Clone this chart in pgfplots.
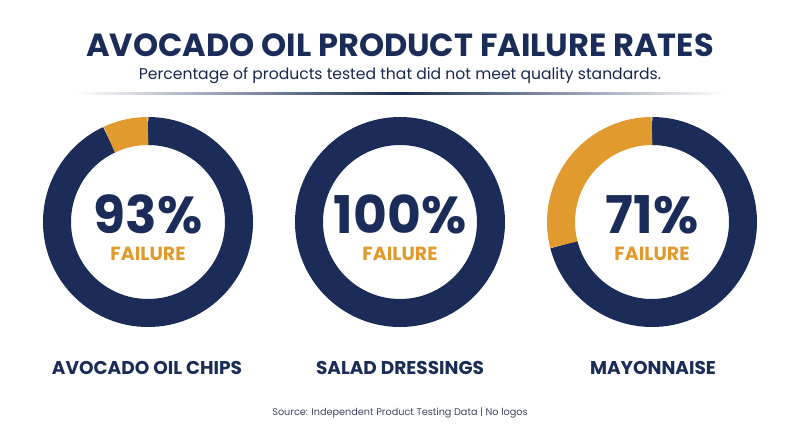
\documentclass[border=0pt]{standalone}
\usepackage{pgfplots}
\usepackage{pgfplotstable}
\pgfplotsset{compat=1.18}
\usepackage{fontspec}
\setmainfont{Poppins}
\definecolor{navy}{HTML}{1A2C57}
\definecolor{gold}{HTML}{E09A2D}
\definecolor{srcgray}{HTML}{3A4560}
\pgfdeclareplotmark{emptymark}{}
\pgfplotstableread{
x y val
148 222 93
400 222 100
652 222 71
}\donuts
\begin{document}
\begin{tikzpicture}
\begin{axis}[width=800pt,height=447pt,scale only axis,
  xmin=0,xmax=800,ymin=0,ymax=447,y dir=reverse,hide axis,clip=false]
\path (axis cs:0,0) rectangle (axis cs:800,447);
\addplot[scatter, only marks, mark=emptymark,
  point meta=explicit symbolic,
  scatter/@pre marker code/.code={%
    \begin{scope}
    \edef\val{\pgfplotspointmeta}%
    \pgfmathsetmacro{\ang}{90-3.6*\val}
    \ifdim\val pt<100pt
      \draw[line width=28pt, navy] (90:91pt) arc[start angle=90, end angle=\ang, radius=91pt];
      \draw[line width=28pt, gold] (\ang:91pt) arc[start angle=\ang, end angle=-270, radius=91pt];
    \else
      \draw[line width=28pt, navy] (0,0) circle[radius=91pt];
    \fi
    \node[anchor=base, text=navy, font=\fontsize{52}{52}\selectfont\bfseries, inner sep=0pt, text depth=0pt] at (0,-11pt) {\val\%};
    \node[anchor=base, text=gold, font=\fontsize{19}{19}\selectfont\bfseries, inner sep=0pt, text height=13pt, text depth=0pt] at (0,-38pt) {FAILURE};
  },
  scatter/@post marker code/.code={\end{scope}}
] table[x=x,y=y,meta=val]{\donuts};
\node[anchor=base, text=navy, font=\fontsize{32}{32}\selectfont\bfseries, inner sep=0pt] at (axis cs:400,56) {AVOCADO OIL PRODUCT FAILURE RATES};
\node[anchor=base, text=navy!90!black, font=\fontsize{15.6}{15.6}\selectfont, inner sep=0pt] at (axis cs:400,79) {Percentage of products tested that did not meet quality standards.};
\shade[left color=white, right color=navy] (axis cs:75,92) rectangle (axis cs:400,94);
\shade[left color=navy, right color=white] (axis cs:400,92) rectangle (axis cs:725,94);
\node[anchor=base, text=navy, font=\fontsize{18.5}{18.5}\selectfont\bfseries, inner sep=0pt] at (axis cs:147,374) {AVOCADO OIL CHIPS};
\node[anchor=base, text=navy, font=\fontsize{18.5}{18.5}\selectfont\bfseries, inner sep=0pt] at (axis cs:400,374) {SALAD DRESSINGS};
\node[anchor=base, text=navy, font=\fontsize{18.5}{18.5}\selectfont\bfseries, inner sep=0pt] at (axis cs:653,374) {MAYONNAISE};
\node[anchor=base, text=srcgray, font=\fontsize{9.7}{9.7}\selectfont, inner sep=0pt] at (axis cs:400,415) {Source: Independent Product Testing Data | No logos};
\end{axis}
\end{tikzpicture}
\end{document}
